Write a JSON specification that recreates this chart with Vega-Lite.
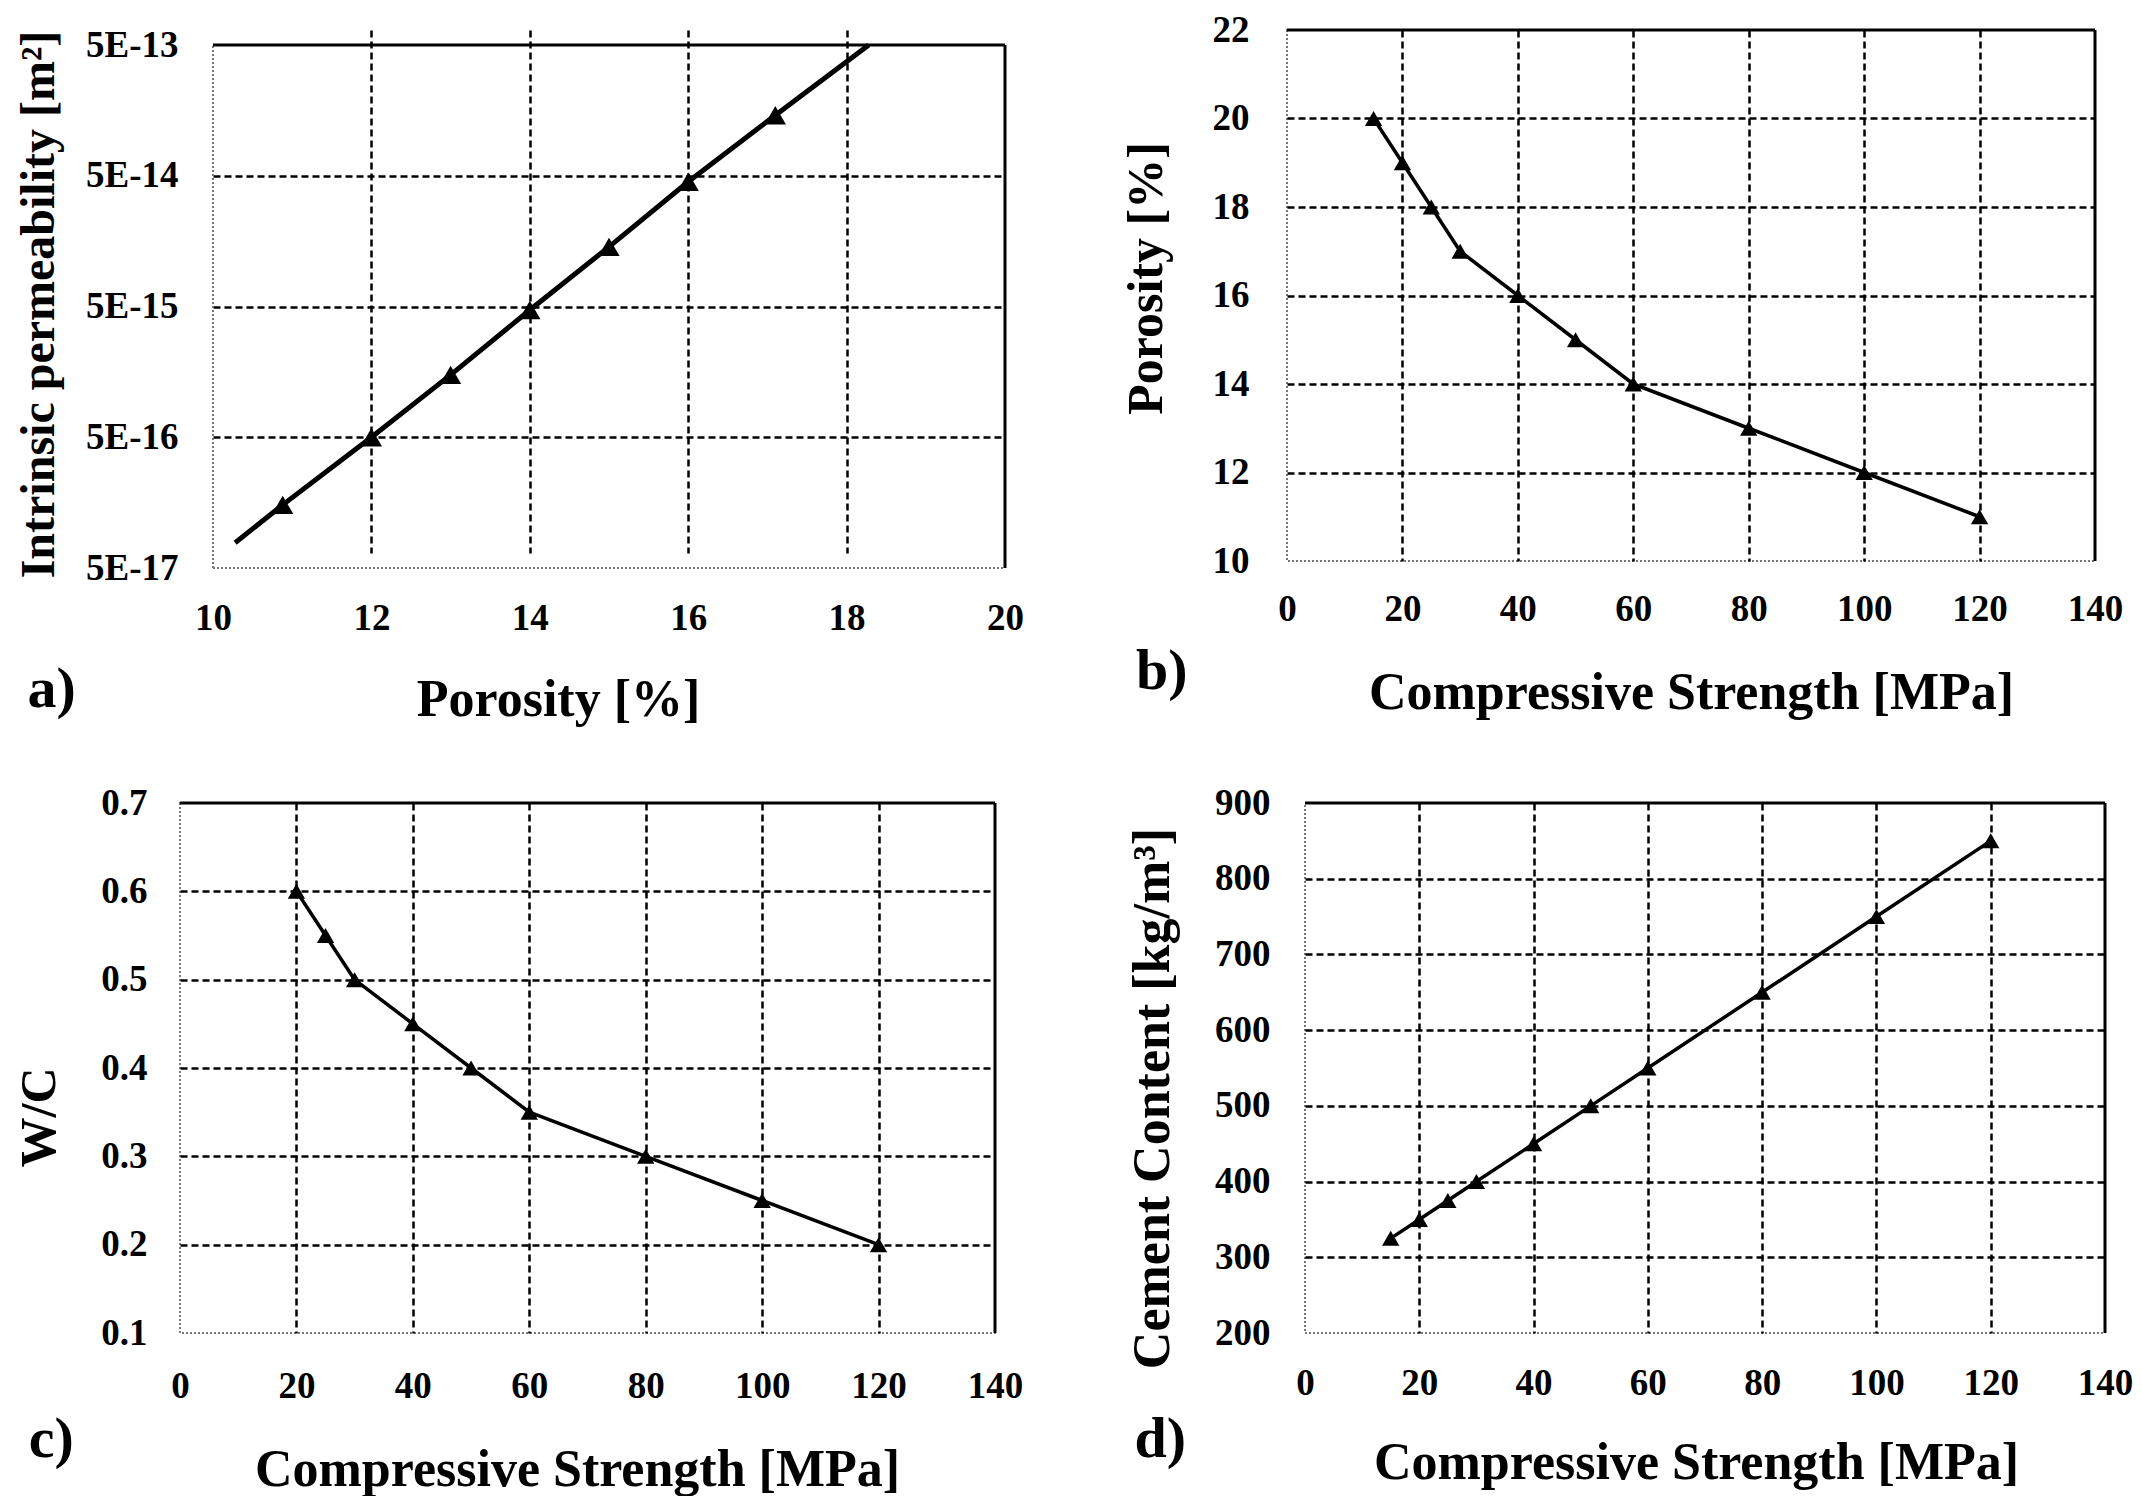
{
  "$schema": "https://vega.github.io/schema/vega-lite/v6.json",
  "background": "white",
  "padding": {"left": 13, "top": 10, "right": 0, "bottom": 0},
  "spacing": 58,
  "datasets": {
    "a_line": [
      {"porosity": 10.28, "k": 7.8e-17},
      {"porosity": 10.88, "k": 1.52e-16},
      {"porosity": 12, "k": 5e-16},
      {"porosity": 13, "k": 1.5e-15},
      {"porosity": 14, "k": 4.7e-15},
      {"porosity": 15, "k": 1.43e-14},
      {"porosity": 16, "k": 4.5e-14},
      {"porosity": 17.1, "k": 1.45e-13},
      {"porosity": 18.28, "k": 5e-13}
    ],
    "a_pts": [
      {"porosity": 10.88, "k": 1.52e-16},
      {"porosity": 12, "k": 5e-16},
      {"porosity": 13, "k": 1.5e-15},
      {"porosity": 14, "k": 4.7e-15},
      {"porosity": 15, "k": 1.43e-14},
      {"porosity": 16, "k": 4.5e-14},
      {"porosity": 17.1, "k": 1.45e-13}
    ],
    "b": [
      {"strength": 15, "porosity": 20},
      {"strength": 20, "porosity": 19},
      {"strength": 25, "porosity": 18},
      {"strength": 30, "porosity": 17},
      {"strength": 40, "porosity": 16},
      {"strength": 50, "porosity": 15},
      {"strength": 60, "porosity": 14},
      {"strength": 80, "porosity": 13},
      {"strength": 100, "porosity": 12},
      {"strength": 120, "porosity": 11}
    ],
    "c": [
      {"strength": 20, "wc": 0.6},
      {"strength": 25, "wc": 0.55},
      {"strength": 30, "wc": 0.5},
      {"strength": 40, "wc": 0.45},
      {"strength": 50, "wc": 0.4},
      {"strength": 60, "wc": 0.35},
      {"strength": 80, "wc": 0.3},
      {"strength": 100, "wc": 0.25},
      {"strength": 120, "wc": 0.2}
    ],
    "d": [
      {"strength": 15, "cement": 325},
      {"strength": 20, "cement": 350},
      {"strength": 25, "cement": 375},
      {"strength": 30, "cement": 400},
      {"strength": 40, "cement": 450},
      {"strength": 50, "cement": 500},
      {"strength": 60, "cement": 550},
      {"strength": 80, "cement": 650},
      {"strength": 100, "cement": 750},
      {"strength": 120, "cement": 850}
    ]
  },
  "vconcat": [
    {
      "spacing": 96,
      "hconcat": [
        {
          "width": 825,
          "height": 538,
          "view": {"stroke": null},
          "title": {"text": "a)", "orient": "bottom", "anchor": "start", "frame": "bounds", "offset": -64, "dx": 12},
          "layer": [
            {
              "data": {"name": "a_line"},
              "mark": {"type": "line", "color": "black", "strokeWidth": 5},
              "encoding": {
                "x": {"field": "porosity", "type": "quantitative", "scale": {"domain": [10, 20], "range": [33, 825], "nice": false, "zero": false},
                  "axis": {"title": "Porosity [%]", "values": [10, 12, 14, 16, 18, 20], "format": "d", "labelPadding": 32, "titleY": 106, "titleX": 378,
                    "gridOpacity": {"condition": {"test": "datum.value <= 10 || datum.value >= 20", "value": 0}, "value": 1}}},
                "y": {"field": "k", "type": "quantitative", "scale": {"type": "log", "domain": [5e-17, 5e-13], "range": [538, 15], "nice": false},
                  "axis": {"title": "Intrinsic permeability [m²]", "values": [5e-17, 5e-16, 5e-15, 5e-14, 5e-13],
                    "labelExpr": "'5E' + floor(log(datum.value) / LN10)", "labelPadding": 2, "titlePadding": 22,
                    "titleY": 274, "titleFontSize": 48,
                    "gridOpacity": {"condition": {"test": "datum.value < 1e-16 || datum.value > 1e-13", "value": 0}, "value": 1}}}
              }
            },
            {
              "data": {"name": "a_pts"},
              "mark": {"type": "point", "shape": "triangle-up", "filled": true, "color": "black", "opacity": 1, "size": 450},
              "encoding": {
                "x": {"field": "porosity", "type": "quantitative"},
                "y": {"field": "k", "type": "quantitative"}
              }
            },
            {"data": {"values": [{}]}, "mark": {"type": "rule", "color": "#777777", "strokeWidth": 2, "strokeDash": [2, 2]},
              "encoding": {"x": {"datum": 10}, "y": {"datum": 5e-17}, "y2": {"datum": 5e-13}}},
            {"data": {"values": [{}]}, "mark": {"type": "rule", "color": "#777777", "strokeWidth": 2, "strokeDash": [2, 2]},
              "encoding": {"y": {"datum": 5e-17}, "x": {"datum": 10}, "x2": {"datum": 20}}},
            {"data": {"values": [{}]}, "mark": {"type": "rule", "color": "black", "strokeWidth": 3},
              "encoding": {"y": {"datum": 5e-13}, "x": {"datum": 10}, "x2": {"datum": 20}}},
            {"data": {"values": [{}]}, "mark": {"type": "rule", "color": "black", "strokeWidth": 3},
              "encoding": {"x": {"datum": 20}, "y": {"datum": 5e-17}, "y2": {"datum": 5e-13}}}
          ]
        },
        {
          "width": 808,
          "height": 531,
          "title": {"text": "b)", "orient": "bottom", "anchor": "start", "frame": "bounds", "offset": -75, "dx": 15},
          "layer": [
            {
              "data": {"name": "b"},
              "mark": {"type": "line", "color": "black", "strokeWidth": 3.5},
              "encoding": {
                "x": {"field": "strength", "type": "quantitative", "scale": {"domain": [0, 140], "nice": false},
                  "axis": {"title": "Compressive Strength [MPa]", "values": [0, 20, 40, 60, 80, 100, 120, 140], "labelPadding": 30, "titleY": 106,
                    "gridOpacity": {"condition": {"test": "datum.value <= 0 || datum.value >= 140", "value": 0}, "value": 1}}},
                "y": {"field": "porosity", "type": "quantitative", "scale": {"domain": [10, 22], "nice": false, "zero": false},
                  "axis": {"title": "Porosity [%]", "values": [10, 12, 14, 16, 18, 20, 22], "labelPadding": 38, "titlePadding": 41, "titleY": 248,
                    "gridOpacity": {"condition": {"test": "datum.value <= 10 || datum.value >= 22", "value": 0}, "value": 1}}}
              }
            },
            {
              "data": {"name": "b"},
              "mark": {"type": "point", "shape": "triangle-up", "filled": true, "color": "black", "opacity": 1, "size": 300},
              "encoding": {
                "x": {"field": "strength", "type": "quantitative"},
                "y": {"field": "porosity", "type": "quantitative"}
              }
            },
            {"data": {"values": [{}]}, "mark": {"type": "rule", "color": "black", "strokeWidth": 3}, "encoding": {"y": {"datum": 22}}},
            {"data": {"values": [{}]}, "mark": {"type": "rule", "color": "black", "strokeWidth": 3}, "encoding": {"x": {"datum": 140}}}
          ]
        }
      ]
    },
    {
      "spacing": 101,
      "hconcat": [
        {
          "width": 815,
          "height": 530,
          "title": {"text": "c)", "orient": "bottom", "anchor": "start", "frame": "bounds", "offset": -84, "dx": 14},
          "layer": [
            {
              "data": {"name": "c"},
              "mark": {"type": "line", "color": "black", "strokeWidth": 3.5},
              "encoding": {
                "x": {"field": "strength", "type": "quantitative", "scale": {"domain": [0, 140], "nice": false},
                  "axis": {"title": "Compressive Strength [MPa]", "values": [0, 20, 40, 60, 80, 100, 120, 140], "labelPadding": 35, "titleY": 111, "titleX": 397,
                    "gridOpacity": {"condition": {"test": "datum.value <= 0 || datum.value >= 140", "value": 0}, "value": 1}}},
                "y": {"field": "wc", "type": "quantitative", "scale": {"domain": [0.1, 0.7], "nice": false, "zero": false},
                  "axis": {"title": "W/C", "values": [0.1, 0.2, 0.3, 0.4, 0.5, 0.6, 0.7], "format": ".1f", "labelPadding": 33, "titlePadding": 36, "titleY": 314,
                    "gridOpacity": {"condition": {"test": "datum.value < 0.15 || datum.value > 0.65", "value": 0}, "value": 1}}}
              }
            },
            {
              "data": {"name": "c"},
              "mark": {"type": "point", "shape": "triangle-up", "filled": true, "color": "black", "opacity": 1, "size": 300},
              "encoding": {
                "x": {"field": "strength", "type": "quantitative"},
                "y": {"field": "wc", "type": "quantitative"}
              }
            },
            {"data": {"values": [{}]}, "mark": {"type": "rule", "color": "black", "strokeWidth": 3}, "encoding": {"y": {"datum": 0.7}}},
            {"data": {"values": [{}]}, "mark": {"type": "rule", "color": "black", "strokeWidth": 3}, "encoding": {"x": {"datum": 140}}}
          ]
        },
        {
          "width": 800,
          "height": 530,
          "title": {"text": "d)", "orient": "bottom", "anchor": "start", "frame": "bounds", "offset": -77, "dx": 8},
          "layer": [
            {
              "data": {"name": "d"},
              "mark": {"type": "line", "color": "black", "strokeWidth": 3.5},
              "encoding": {
                "x": {"field": "strength", "type": "quantitative", "scale": {"domain": [0, 140], "nice": false},
                  "axis": {"title": "Compressive Strength [MPa]", "values": [0, 20, 40, 60, 80, 100, 120, 140], "labelPadding": 32, "titleY": 104, "titleX": 391,
                    "gridOpacity": {"condition": {"test": "datum.value <= 0 || datum.value >= 140", "value": 0}, "value": 1}}},
                "y": {"field": "cement", "type": "quantitative", "scale": {"domain": [200, 900], "nice": false, "zero": false},
                  "axis": {"title": "Cement Content [kg/m³]", "values": [200, 300, 400, 500, 600, 700, 800, 900], "labelPadding": 35, "titlePadding": 35, "titleY": 295, "titleFontSize": 52,
                    "gridOpacity": {"condition": {"test": "datum.value <= 200 || datum.value >= 900", "value": 0}, "value": 1}}}
              }
            },
            {
              "data": {"name": "d"},
              "mark": {"type": "point", "shape": "triangle-up", "filled": true, "color": "black", "opacity": 1, "size": 300},
              "encoding": {
                "x": {"field": "strength", "type": "quantitative"},
                "y": {"field": "cement", "type": "quantitative"}
              }
            },
            {"data": {"values": [{}]}, "mark": {"type": "rule", "color": "black", "strokeWidth": 3}, "encoding": {"y": {"datum": 900}}},
            {"data": {"values": [{}]}, "mark": {"type": "rule", "color": "black", "strokeWidth": 3}, "encoding": {"x": {"datum": 140}}}
          ]
        }
      ]
    }
  ],
  "config": {
    "view": {"stroke": "#777777", "strokeWidth": 2, "strokeDash": [2, 2]},
    "axis": {
      "domain": false, "ticks": false, "tickSize": 0,
      "grid": true, "gridColor": "black", "gridWidth": 2.5, "gridDash": [7, 4],
      "labelFont": "Liberation Serif", "labelFontWeight": "bold", "labelColor": "black",
      "titleFont": "Liberation Serif", "titleFontWeight": "bold", "titleColor": "black", "titleFontSize": 50,
      "labelFlush": false, "labelOverlap": false, "labelBound": false
    },
    "axisX": {"labelFontSize": 37, "titleFontSize": 52},
    "axisY": {"labelFontSize": 37},
    "title": {"font": "Liberation Serif", "fontWeight": "bold", "fontSize": 58, "color": "black"},
    "line": {"strokeJoin": "round"}
  }
}
